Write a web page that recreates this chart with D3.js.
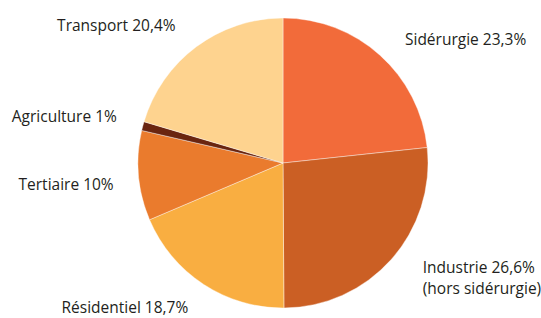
<!DOCTYPE html>
<html>
<head>
<meta charset="utf-8">
<script src="https://cdn.jsdelivr.net/npm/d3@7"></script>
<style>
  body { margin: 0; background: #fff; }
  text { font-family: "Open Sans", "Noto Sans", sans-serif; fill: #231f20; }
</style>
</head>
<body>
<div id="chart"></div>
<script>
// data
var categories = ["Sidérurgie", "Industrie", "Résidentiel", "Tertiaire", "Agriculture", "Transport"];
var values = [23.3, 26.6, 18.7, 10, 1, 20.4];
var valueLabels = ["23,3%", "26,6%", "18,7%", "10%", "1%", "20,4%"];
var subLabels = ["", "(hors sidérurgie)", "", "", "", ""];
var colors = ["#f26b3a", "#cb5f24", "#f9ae41", "#ea7b2d", "#6a2510", "#fed38f"];

var width = 541, height = 318;
var cx = 283, cy = 163, radius = 145;

// small nudges for each label, relative to the outer arc centroid
var nudge = [[3, 14], [7, -9], [3, 1], [8, 11], [6, 4], [-1, 11]];

var svg = d3.select("#chart").append("svg")
    .attr("width", width)
    .attr("height", height);

var data = categories.map(function (c, i) {
    return { name: c, value: values[i], label: valueLabels[i], sub: subLabels[i], color: colors[i] };
});

var pie = d3.pie().sort(null).value(function (d) { return d.value; });
var arc = d3.arc().innerRadius(0).outerRadius(radius);
var labelArc = d3.arc().innerRadius(radius + 33).outerRadius(radius + 33);

var g = svg.append("g").attr("transform", "translate(" + cx + "," + cy + ")");

var arcs = pie(data);

g.selectAll("path")
    .data(arcs)
    .enter()
    .append("path")
    .attr("d", arc)
    .attr("fill", function (d) { return d.data.color; })
    .attr("stroke", "#ffffff")
    .attr("stroke-width", 0.4);

var labels = g.selectAll("text.lbl")
    .data(arcs)
    .enter()
    .append("text")
    .attr("class", "lbl")
    .attr("font-size", "15.5px")
    .attr("text-anchor", function (d) {
        var mid = (d.startAngle + d.endAngle) / 2;
        return mid < Math.PI ? "start" : "end";
    })
    .attr("transform", function (d, i) {
        var c = labelArc.centroid(d);
        return "translate(" + (c[0] + nudge[i][0]) + "," + (c[1] + nudge[i][1]) + ")";
    });

labels.append("tspan")
    .attr("x", 0)
    .text(function (d) { return d.data.name + " " + d.data.label; });

labels.filter(function (d) { return d.data.sub !== ""; })
    .append("tspan")
    .attr("x", 0)
    .attr("dy", 21)
    .text(function (d) { return d.data.sub; });
</script>
</body>
</html>
